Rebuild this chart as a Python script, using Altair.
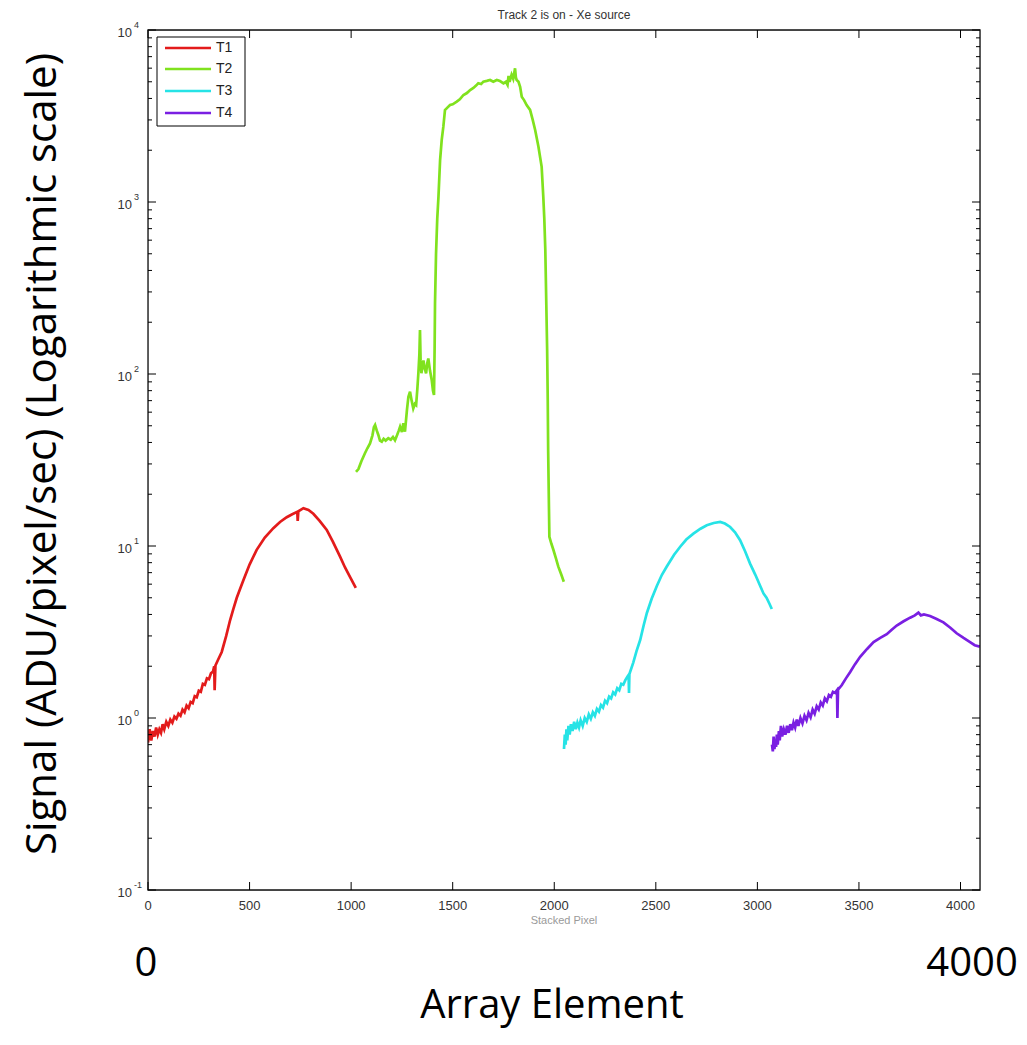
import altair as alt
import pandas as pd

# ---------------- data ----------------
tracks = ["T1", "T2", "T3", "T4"]
track_colors = ["#e31b1b", "#80e21e", "#26e3e6", "#7a1fe2"]

t1_x = [0, 8, 16, 24, 32, 40, 48, 56, 64, 72,
        80, 90, 100, 110, 120, 130, 140, 150, 160, 170,
        180, 190, 200, 210, 220, 230, 240, 250, 260, 270,
        280, 290, 300, 310, 320, 326, 328, 332, 345, 363,
        385, 404, 420, 437, 455, 470, 500, 535, 575, 617,
        650, 683, 710, 735, 737, 740, 765, 790, 814, 845,
        880, 910, 945, 970, 995, 1010, 1023]
t1_y = [0.72, 0.86, 0.74, 0.84, 0.78, 0.88, 0.80, 0.86, 0.82, 0.92,
        0.86, 0.95, 0.90, 0.98, 0.94, 1.02, 0.99, 1.06, 1.03, 1.12,
        1.08, 1.18, 1.14, 1.24, 1.22, 1.34, 1.32, 1.44, 1.42, 1.58,
        1.56, 1.70, 1.68, 1.82, 1.86, 2.0, 1.45, 2.02, 2.18, 2.42,
        3.0, 3.7, 4.3, 5.0, 5.7, 6.35, 7.8, 9.5, 11.2, 12.7,
        13.8, 14.7, 15.3, 15.8, 14.0, 15.9, 16.6, 16.2, 15.4, 14.0,
        12.4, 10.6, 8.7, 7.5, 6.6, 6.1, 5.7]

t2_x = [1024, 1036, 1050, 1068, 1080, 1093, 1105, 1112, 1118, 1126,
        1134, 1142, 1151, 1160, 1170, 1183, 1195, 1206, 1216, 1226,
        1235, 1241, 1250, 1257, 1265, 1275, 1282, 1290, 1298, 1306,
        1314, 1320, 1326, 1331, 1336, 1339, 1342, 1346, 1352, 1356,
        1362, 1369, 1375, 1380, 1388, 1397, 1403, 1408, 1411, 1413,
        1418, 1424, 1430, 1438, 1446, 1454, 1462, 1475, 1487, 1500,
        1520, 1535, 1553, 1570, 1586, 1602, 1615, 1626, 1640, 1651,
        1668, 1684, 1700, 1717, 1733, 1750, 1762, 1770, 1775, 1780,
        1790, 1798, 1807, 1811, 1815, 1824, 1832, 1840, 1852, 1864,
        1881, 1894, 1906, 1922, 1938, 1946, 1951, 1956, 1961, 1965,
        1968, 1970, 1973, 1976, 1986, 1996, 2008, 2020, 2035, 2047]
t2_y = [27, 28, 31, 34.6, 37, 39.5, 44, 49, 50.5, 47,
        44.2, 41, 40.4, 42, 41, 42.3, 41.5, 43, 41.2, 44,
        47, 49.4, 46, 51.7, 46.2, 62, 73.8, 78.9, 70, 63,
        67, 66, 82, 101, 130, 180, 120, 101, 112, 120,
        108, 101, 116, 123, 105, 92, 80, 75.5, 140, 258,
        500, 800, 1074, 1754, 2300, 2740, 3427, 3550, 3664, 3700,
        3830, 3950, 4190, 4300, 4480, 4600, 4750, 4900, 4850, 5010,
        5060, 5120, 5000, 5120, 5050, 4900, 5000, 4800, 5400, 5000,
        5500, 5200, 5990, 5300, 5120, 5000, 4680, 4090, 3900, 3660,
        3430, 3000, 2620, 2100, 1600, 1074, 800, 526, 250, 138,
        70, 36, 20, 11.3, 10.3, 9.48, 8.5, 7.58, 6.8, 6.2]

t3_x = [2048, 2052, 2056, 2060, 2064, 2070, 2076, 2082, 2090, 2098,
        2106, 2114, 2122, 2130, 2140, 2150, 2160, 2170, 2180, 2190,
        2200, 2210, 2220, 2230, 2240, 2250, 2260, 2270, 2280, 2290,
        2300, 2310, 2320, 2330, 2340, 2350, 2360, 2366, 2368, 2370,
        2389, 2405, 2423, 2440, 2456, 2480, 2505, 2530, 2554, 2590,
        2620, 2650, 2685, 2720, 2751, 2785, 2817, 2840, 2866, 2890,
        2915, 2940, 2964, 2990, 3014, 3030, 3045, 3060, 3071]
t3_y = [0.66, 0.80, 0.70, 0.86, 0.74, 0.90, 0.80, 0.92, 0.84, 0.95,
        0.86, 0.94, 0.88, 0.97, 0.90, 1.0, 0.95, 1.05, 0.99, 1.08,
        1.03, 1.13, 1.09, 1.19, 1.15, 1.26, 1.22, 1.33, 1.30, 1.41,
        1.37, 1.49, 1.45, 1.58, 1.56, 1.66, 1.74, 1.78, 1.40, 1.80,
        2.10, 2.45, 2.84, 3.45, 4.08, 4.95, 5.86, 6.8, 7.6, 8.9,
        9.9, 10.9, 11.8, 12.6, 13.2, 13.6, 13.8, 13.5, 12.9, 12.0,
        10.8, 9.3, 7.9, 6.8, 5.86, 5.3, 5.0, 4.6, 4.3]

t4_x = [3072, 3076, 3080, 3084, 3088, 3092, 3096, 3100, 3106, 3110,
        3116, 3122, 3130, 3138, 3146, 3154, 3162, 3170, 3178, 3186,
        3194, 3202, 3212, 3222, 3232, 3242, 3252, 3262, 3272, 3282,
        3292, 3302, 3312, 3322, 3332, 3342, 3352, 3362, 3372, 3382,
        3392, 3394, 3397, 3415, 3436, 3457, 3480, 3506, 3540, 3572,
        3605, 3637, 3660, 3686, 3720, 3752, 3775, 3793, 3805, 3820,
        3850, 3880, 3916, 3950, 3981, 4015, 4047, 4070, 4095]
t4_y = [0.70, 0.64, 0.78, 0.66, 0.74, 0.68, 0.80, 0.70, 0.84, 0.74,
        0.90, 0.78, 0.86, 0.80, 0.90, 0.82, 0.92, 0.85, 0.94, 0.88,
        0.98, 0.90, 1.0, 0.93, 1.03, 0.97, 1.07, 1.01, 1.12, 1.06,
        1.17, 1.12, 1.23, 1.18, 1.30, 1.25, 1.36, 1.33, 1.42, 1.40,
        1.45, 1.0, 1.46, 1.55, 1.70, 1.85, 2.05, 2.27, 2.52, 2.76,
        2.92, 3.07, 3.25, 3.45, 3.65, 3.83, 3.95, 4.1, 3.95, 4.0,
        3.92, 3.78, 3.6, 3.35, 3.11, 2.92, 2.76, 2.65, 2.6]

x_tick_values = [0, 500, 1000, 1500, 2000, 2500, 3000, 3500, 4000]
y_exponents = [-1, 0, 1, 2, 3, 4]
y_minor_mult = [2, 3, 4, 5, 6, 7, 8, 9]

title_text = "Track 2 is on - Xe source"
y_title_text = "Signal (ADU/pixel/sec) (Logarithmic scale)"
x_title_text = "Array Element"
inner_xlabel = "Stacked Pixel"

# ---------------- tables ----------------
series = {"T1": (t1_x, t1_y), "T2": (t2_x, t2_y), "T3": (t3_x, t3_y), "T4": (t4_x, t4_y)}
rows = []
for name, (xs, ys) in series.items():
    assert len(xs) == len(ys), name
    for a, b in zip(xs, ys):
        rows.append({"track": name, "elem": a, "signal": b})
df = pd.DataFrame(rows)

ymaj = pd.DataFrame({"v": [10.0 ** e for e in y_exponents],
                     "base": ["10"] * len(y_exponents),
                     "exp": [str(e) for e in y_exponents]})
ymin = pd.DataFrame({"v": [m * 10.0 ** e for e in y_exponents[:-1] for m in y_minor_mult]})
xt = pd.DataFrame({"elem": x_tick_values, "lab": [str(v) for v in x_tick_values]})

W, H = 832, 860
xscale = alt.Scale(domain=[0, 4096], nice=False, zero=False)
yscale = alt.Scale(type="log", domain=[0.1, 10000], nice=False)
small_font = "Liberation Sans"
big_font = "Open Sans"
lab_col = "#333333"

lines = alt.Chart(df).mark_line(strokeWidth=2.7, clip=True).encode(
    x=alt.X("elem:Q", scale=xscale, axis=None),
    y=alt.Y("signal:Q", scale=yscale, axis=None),
    color=alt.Color("track:N", scale=alt.Scale(domain=tracks, range=track_colors), legend=None),
    order="elem:Q",
)

def yrule(data, x0, x1):
    return alt.Chart(data).mark_rule(color="black", strokeWidth=1).encode(
        y=alt.Y("v:Q", scale=yscale, axis=None), x=alt.value(x0), x2=alt.value(x1))

def xrule(y0, y1):
    return alt.Chart(xt).mark_rule(color="black", strokeWidth=1).encode(
        x=alt.X("elem:Q", scale=xscale, axis=None), y=alt.value(y0), y2=alt.value(y1))

frame = alt.Chart(pd.DataFrame({"k": [0]})).mark_rect(
    fill=None, fillOpacity=0, stroke="#111111", strokeWidth=1.3).encode(
    x=alt.value(0), x2=alt.value(W), y=alt.value(0), y2=alt.value(H))

ticks = [
    yrule(ymaj, 0, 8), yrule(ymaj, W - 8, W),
    yrule(ymin, 0, 4), yrule(ymin, W - 4, W),
    xrule(H, H - 8), xrule(0, 8),
]

# tick labels
xlab = alt.Chart(xt).mark_text(align="center", baseline="middle", fontSize=13,
                               font=small_font, color=lab_col).encode(
    x=alt.X("elem:Q", scale=xscale, axis=None), y=alt.value(H + 16), text="lab:N")
ylab_base = alt.Chart(ymaj).mark_text(align="right", baseline="middle", fontSize=13,
                                      font=small_font, color=lab_col, dy=3).encode(
    y=alt.Y("v:Q", scale=yscale, axis=None), x=alt.value(-16), text="base:N")
ylab_exp = alt.Chart(ymaj).mark_text(align="left", baseline="alphabetic", fontSize=9,
                                     font=small_font, color=lab_col, dy=-2).encode(
    y=alt.Y("v:Q", scale=yscale, axis=None), x=alt.value(-14), text="exp:N")

# legend (drawn by hand: box, line samples, labels)
leg_rows = [18, 39, 61, 83]
legend_layers = [
    alt.Chart(pd.DataFrame({"k": [0]})).mark_rect(fill="white", stroke="black", strokeWidth=1).encode(
        x=alt.value(9), x2=alt.value(97), y=alt.value(7), y2=alt.value(96))
]
for name, col, ry in zip(tracks, track_colors, leg_rows):
    one = pd.DataFrame({"label": [name]})
    legend_layers.append(alt.Chart(one).mark_rule(color=col, strokeWidth=2.7).encode(
        x=alt.value(17), x2=alt.value(63), y=alt.value(ry)))
    legend_layers.append(alt.Chart(one).mark_text(align="left", baseline="middle", fontSize=14,
                                                  font=small_font, color="#222").encode(
        x=alt.value(68), y=alt.value(ry), text="label:N"))

def note(txt, x, y, size, font, color, **kw):
    return alt.Chart(pd.DataFrame({"t": [txt]})).mark_text(
        fontSize=size, font=font, color=color, **kw).encode(
        x=alt.value(x), y=alt.value(y), text="t:N")

y_title = note(y_title_text, -92, 424, 42, big_font, "black",
               angle=270, align="center", baseline="alphabetic")
x_title = note(x_title_text, 404, H + 128, 40, big_font, "black",
               align="center", baseline="alphabetic")
zero_lab = note("0", -2, H + 86, 40, big_font, "black", align="center", baseline="alphabetic")
four_lab = note("4000", 824, H + 86, 40, big_font, "black", align="center", baseline="alphabetic")
inner_lab = note(inner_xlabel, 416, H + 25, 11, small_font, "#9a9a9a",
                 align="center", baseline="top")
top_title = note(title_text, 416, -11, 12, small_font, lab_col,
                 align="center", baseline="alphabetic")

chart = alt.layer(
    lines, frame, *ticks, xlab, ylab_base, ylab_exp, *legend_layers,
    y_title, x_title, zero_lab, four_lab, inner_lab, top_title,
).properties(
    width=W, height=H,
    autosize=alt.AutoSizeParams(type="none"),
    padding={"left": 140, "top": 22, "right": 38, "bottom": 142},
).configure_view(stroke=None).configure(background="white")

chart.save("out.html", embed_options={"renderer": "svg", "actions": False})
